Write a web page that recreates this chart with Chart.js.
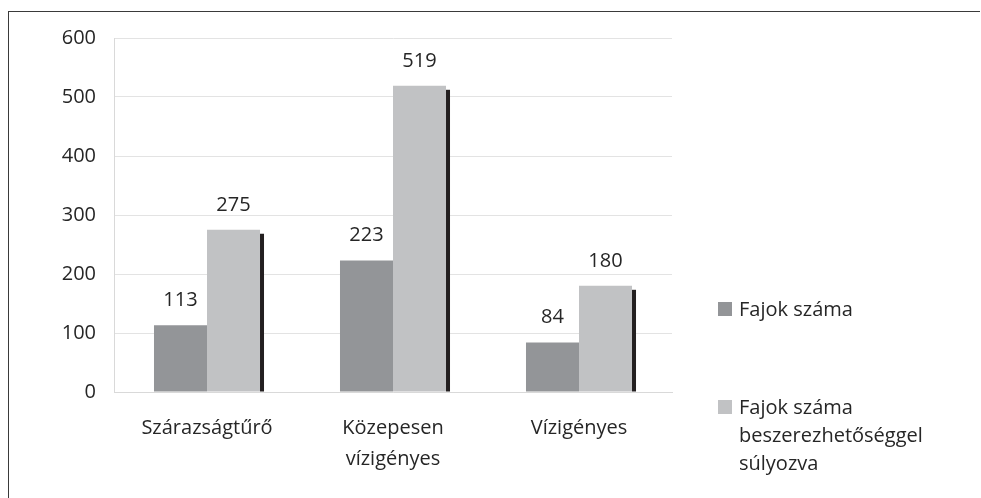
<!DOCTYPE html>
<html>
<head>
<meta charset="utf-8">
<script src="https://cdn.jsdelivr.net/npm/chart.js@4"></script>
<style>
  html, body { margin: 0; padding: 0; background: #fff; }
  body { width: 981px; height: 498px; position: relative; overflow: hidden; font-family: "Open Sans", sans-serif; }
  #frame { position: absolute; left: 8px; top: 11px; width: 972px; height: 487px;
           border-top: 1px solid #3a3a3a; border-left: 1px solid #3a3a3a; box-sizing: border-box; }
  #chartBox { position: absolute; left: 0; top: 0; width: 981px; height: 498px; }
  #legend { position: absolute; left: 718px; top: 0; color: #262626; font-size: 20px; line-height: 28px; }
  .item { position: absolute; left: 0; width: 260px; }
  .box { position: absolute; left: 0; top: 7px; width: 14px; height: 14px; }
  .txt { position: absolute; left: 21px; top: 0; white-space: nowrap; }
</style>
</head>
<body>
<div id="frame"></div>
<div id="chartBox"><canvas id="chart" width="981" height="498"></canvas></div>
<div id="legend"></div>

<script>
/* ================= DATA ================= */

const categories = ["Szárazságtűrő", ["Közepesen", "vízigényes"], "Vízigényes"];
const seriesNames = ["Fajok száma", "Fajok száma beszerezhetőséggel súlyozva"];
const legendLines = [["Fajok száma"], ["Fajok száma", "beszerezhetőséggel", "súlyozva"]];
const fajokSzama = [113, 223, 84];
const fajokSulyozva = [275, 519, 180];
const yTicks = [0, 100, 200, 300, 400, 500, 600];

const barColors = ["#939598", "#c1c2c4"];
const textColor = "#262626";
const fontFamily = "'Open Sans', sans-serif";

/* ================= PLUGINS ================= */

// black drop shadow on the right of the light bars
const shadowPlugin = {
  id: "barShadow",
  beforeDatasetDraw(chart, args) {
    if (args.index !== 1) return;
    const ctx = chart.ctx;
    const meta = chart.getDatasetMeta(1);
    ctx.save();
    ctx.fillStyle = "#231f20";
    meta.data.forEach(bar => {
      const right = bar.x + bar.width / 2;
      ctx.fillRect(right, bar.y + 4, 4, bar.base - bar.y - 4);
    });
    ctx.restore();
  }
};

// value labels above each bar
const valueLabels = {
  id: "valueLabels",
  afterDatasetsDraw(chart) {
    const ctx = chart.ctx;
    ctx.save();
    ctx.font = "20px " + fontFamily;
    ctx.fillStyle = textColor;
    ctx.textAlign = "center";
    ctx.textBaseline = "alphabetic";
    chart.data.datasets.forEach((ds, i) => {
      chart.getDatasetMeta(i).data.forEach((bar, j) => {
        ctx.fillText(ds.data[j], bar.x, bar.y - 19);
      });
    });
    ctx.restore();
  }
};

/* ================= CHART ================= */

new Chart(document.getElementById("chart"), {
  type: "bar",
  data: {
    labels: categories,
    datasets: [
      { label: seriesNames[0], data: fajokSzama, backgroundColor: barColors[0] },
      { label: seriesNames[1], data: fajokSulyozva, backgroundColor: barColors[1] }
    ]
  },
  options: {
    responsive: false,
    animation: false,
    layout: { padding: { left: 20, top: 38, right: 309, bottom: 0 } },
    datasets: { bar: { categoryPercentage: 0.57, barPercentage: 1 } },
    plugins: {
      legend: { display: false },
      tooltip: { enabled: false }
    },
    scales: {
      x: {
        grid: { display: false, drawTicks: false },
        border: { color: "#d9d9d9" },
        ticks: {
          color: textColor,
          font: { family: fontFamily, size: 20, lineHeight: 1.55 },
          padding: 21,
          maxRotation: 0
        },
        afterFit(scale) { scale.height = 106; }
      },
      y: {
        min: 0,
        max: 600,
        afterBuildTicks(scale) { scale.ticks = yTicks.map(v => ({ value: v })); },
        grid: { color: "#e3e3e3", drawTicks: false },
        border: { color: "#d9d9d9" },
        ticks: {
          color: textColor,
          font: { family: fontFamily, size: 20 },
          padding: 18
        },
        afterFit(scale) { scale.width = 94; }
      }
    }
  },
  plugins: [shadowPlugin, valueLabels]
});

/* ================= LEGEND ================= */

const legendTops = [295, 393];
const legendEl = document.getElementById("legend");
legendLines.forEach((lines, i) => {
  const item = document.createElement("div");
  item.className = "item";
  item.style.top = legendTops[i] + "px";
  const box = document.createElement("div");
  box.className = "box";
  box.style.background = barColors[i];
  const txt = document.createElement("div");
  txt.className = "txt";
  txt.innerHTML = lines.join("<br>");
  item.appendChild(box);
  item.appendChild(txt);
  legendEl.appendChild(item);
});
</script>
</body>
</html>
